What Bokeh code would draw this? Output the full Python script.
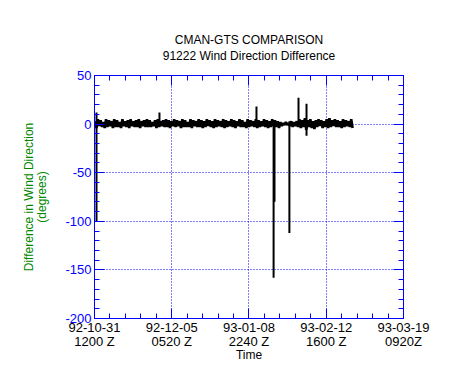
import numpy as np
from bokeh.plotting import figure
from bokeh.models import Range1d, FixedTicker, LinearAxis
from bokeh.embed import file_html
from bokeh.resources import INLINE

# ---- data (days since 92-10-31 1200Z) ----
tick_days = [0.0, 34.722, 69.444, 104.167, 138.889]
tick_labels = ["92-10-31\n1200 Z", "92-12-05\n0520 Z", "93-01-08\n2240 Z",
               "93-02-12\n1600 Z", "93-03-19\n0920Z"]
y_ticks = [-200, -150, -100, -50, 0, 50]

noise = [
    3, -4, 5, -2, 4, -3, 2, -4, 5, -3, 4, -2, 3, -4, 5, -3, 4, -3, 2, -4,
    5, -2, 3, -3, 4, -4, 5, -2, 3, -3, 4, -3, 5, -4, 3, -2, 4, -3, 5, -3,
    4, -3, 2, -2, 4, -4, 5, -3, 3, -2, 4, -3, 5, -3, 4, -4, 3, -2, 5, -3,
    4, -2, 3, -4, 5, -3, 4, -3, 2, -3, 5, -4, 4, -2, 3, -3, 5, -3, 4, -4,
    3, -3, 5, -2, 4, -3, 3, -4, 5, -3, 4, -2, 3, -3, 5, -4, 4, -3, 3, -2,
    5, -3, 4, -4, 3, -2, 5, -3, 4, -3, 2, -4, 5, -3, 4, -2, 3, -3, 5, -4,
    4, -3, 3, -2, 5, -3, 4, -4, 3, -3, 5, -2, 4, -3, 3, -4, 2, -2, 1, -1,
    2, -1, 1, -2, 3, -3, 2, -2, 3, -3, 5, -4, 4, -3, 6, -6, 4, -3, 5, -4,
    3, -5, 4, -3, 5, -2, 4, -4, 3, -3, 5, -4, 6, -3, 4, -2, 5, -3, 4, -3,
    3, -4, 5, -3, 4, -2, 3, -3, 5, -4,
]
noise_start_day = 0.3
noise_end_day = 116.0

spike_days = [0.9, 29.2, 72.8, 80.5, 80.9, 87.6, 91.7, 95.3]
spike_min = [-100, -2, -2, -158, -80, -112, -2, -12]
spike_max = [12, 12, 18, 4, 4, 3, 27, 21]

title_1 = "CMAN-GTS COMPARISON"
title_2 = "91222 Wind Direction Difference"

BLUE = "#0000ff"
GREEN = "#008800"
FONT = "Liberation Sans"

noise_days = np.linspace(noise_start_day, noise_end_day, len(noise))

W, H = 457, 364
p = figure(width=W, height=H, output_backend="svg", toolbar_location=None,
           x_range=Range1d(0, 138.889), y_range=Range1d(-200, 50),
           min_border_left=94, min_border_right=W - 403, min_border_top=75,
           min_border_bottom=H - 320, outline_line_color=None,
           background_fill_color="white", border_fill_color="white")

p.line(noise_days, noise, line_color="black", line_width=2.6)
p.segment(x0=spike_days, y0=spike_min, x1=spike_days, y1=spike_max,
          line_color="black", line_width=2)

step = tick_days[1] - tick_days[0]
x_minor = [tick_days[0] + i * step / 5 for i in range(21)]
xticker = FixedTicker(ticks=tick_days, minor_ticks=x_minor)
yticker = FixedTicker(ticks=y_ticks, minor_ticks=list(range(-200, 51, 10)))


def style_axis(ax):
    ax.axis_line_color = BLUE
    ax.major_tick_line_color = BLUE
    ax.minor_tick_line_color = BLUE
    ax.major_tick_in = 10
    ax.major_tick_out = 0
    ax.minor_tick_in = 5
    ax.minor_tick_out = 0
    ax.major_label_text_font = FONT
    ax.major_label_text_font_size = "12px"
    ax.axis_label_text_font = FONT
    ax.axis_label_text_font_size = "12px"
    ax.axis_label_text_font_style = "normal"
    ax.axis_label_text_color = "black"


xb = p.xaxis[0]
xb.ticker = xticker
xb.major_label_overrides = {t: l for t, l in zip(tick_days, tick_labels)}
style_axis(xb)
xb.major_label_text_font_size = "13px"
xb.major_label_text_line_height = 0.96
xb.major_label_text_color = "black"
xb.major_label_standoff = 1
xb.axis_label = "Time"
xb.axis_label_standoff = -4

yl = p.yaxis[0]
yl.ticker = yticker
yl.major_label_overrides = {t: str(t) for t in y_ticks}
style_axis(yl)
yl.major_label_text_font_size = "13px"
yl.major_label_text_color = BLUE
yl.major_label_standoff = 3
yl.axis_label = "Difference in Wind Direction\n(degrees)"
yl.axis_label_standoff = 13
yl.axis_label_text_line_height = 0.96
yl.axis_label_text_color = GREEN

# top frame axis carries the second title line
xa = LinearAxis(ticker=xticker)
style_axis(xa)
xa.major_label_overrides = {t: "" for t in tick_days}
xa.major_label_standoff = 0
xa.axis_label = title_2
xa.axis_label_standoff = 13
p.add_layout(xa, "above")

# invisible axis above it carries the first title line
xt = LinearAxis(ticker=xticker)
style_axis(xt)
xt.axis_line_color = None
xt.major_tick_line_color = None
xt.minor_tick_line_color = None
xt.major_tick_in = 0
xt.minor_tick_in = 0
xt.major_label_overrides = {t: "" for t in tick_days}
xt.major_label_standoff = 0
xt.axis_label = title_1
xt.axis_label_standoff = -1
p.add_layout(xt, "above")

yr = LinearAxis(ticker=yticker)
style_axis(yr)
yr.major_label_overrides = {t: "" for t in y_ticks}
yr.major_label_standoff = 0
p.add_layout(yr, "right")

for g, tk in ((p.xgrid[0], xticker), (p.ygrid[0], yticker)):
    g.ticker = tk
    g.grid_line_color = BLUE
    g.grid_line_dash = "1 2"
    g.grid_line_width = 1

open("out.html", "w").write(file_html(p, INLINE))
